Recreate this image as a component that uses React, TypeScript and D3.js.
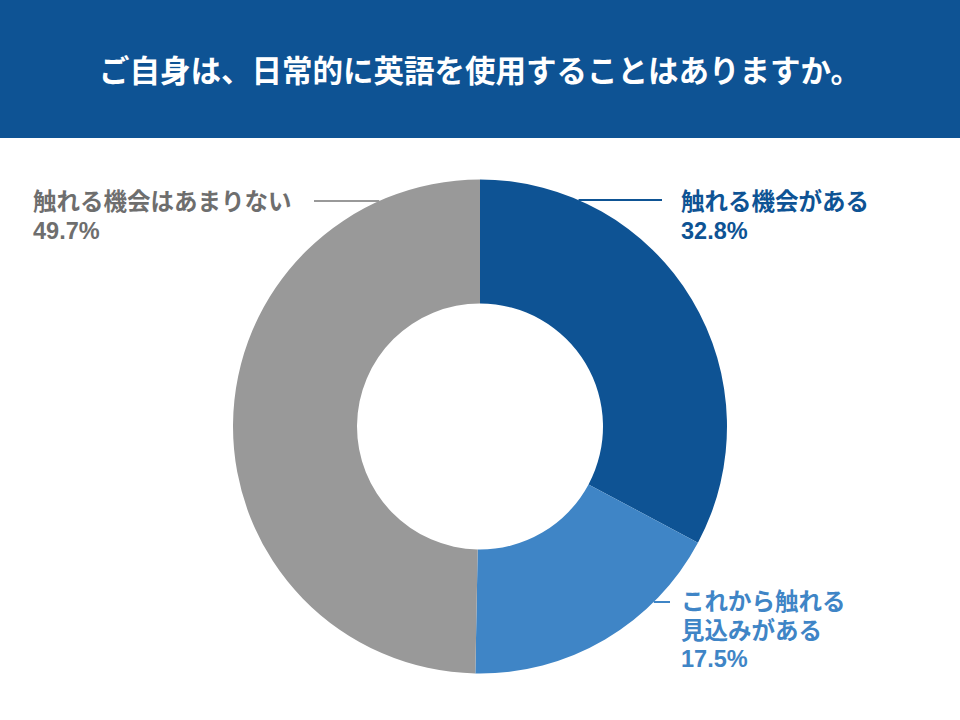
import React from "react";
import * as d3 from "d3";

const title = "ご自身は、日常的に英語を使用することはありますか。";
const categories = ["触れる機会がある", "これから触れる見込みがある", "触れる機会はあまりない"];
const labelLines = [["触れる機会がある"], ["これから触れる", "見込みがある"], ["触れる機会はあまりない"]];
const values = [32.8, 17.5, 49.7];
const sliceColors = ["#0e5394", "#3f85c6", "#999999"];
const labelColors = ["#0e5394", "#3f85c6", "#6e6e6e"];
const lineColors = ["#0e5394", "#3f85c6", "#999999"];

const W = 960, H = 720;
const cx = 480, cy = 426.5, R = 247, r = 123;
const FONT = "'Liberation Sans', Arial, 'Noto Sans CJK JP', sans-serif";
const FS = 23.5;
const LH = 28.5;

// label layout: anchor side, x of text, baseline of first line
const labelLayout = [
  { side: "right", x: 681, y: 210, lineY: 200, lineX: 662 },
  { side: "right", x: 681, y: 610, lineY: 602, lineX: 670 },
  { side: "left", x: 33, y: 210, lineY: 201, lineX: 314 },
];

export default function App() {
  const pie = d3.pie<number>().sort(null).value((d) => d)(values);
  const arc = d3.arc<d3.PieArcDatum<number>>().innerRadius(r).outerRadius(R);
  return (
    <svg width={W} height={H} style={{ position: "absolute", left: 0, top: 0, display: "block" }} fontFamily={FONT}>
      <rect x={0} y={0} width={W} height={H} fill="#ffffff" />
      <rect x={0} y={0} width={W} height={138} fill="#0e5394" />
      <text x={W / 2} y={82} textAnchor="middle" fill="#ffffff" fontSize={30.5} fontWeight="bold">{title}</text>
      {labelLayout.map((l, i) => {
        const dy = l.lineY - cy;
        const dx = Math.sqrt(Math.max(0, R * R - dy * dy));
        const edgeX = l.side === "right" ? cx + dx : cx - dx;
        return (
          <line key={"l" + i} x1={l.lineX} x2={edgeX} y1={l.lineY} y2={l.lineY} stroke={lineColors[i]} strokeWidth={2} />
        );
      })}
      <g transform={`translate(${cx},${cy})`}>
        {pie.map((p, i) => (
          <path key={categories[i]} d={arc(p) || ""} fill={sliceColors[i]} />
        ))}
      </g>
      {labelLayout.map((l, i) => (
        <text key={"t" + i} x={l.x} y={l.y} fill={labelColors[i]} fontSize={FS} fontWeight="bold">
          {labelLines[i].map((s, j) => (
            <tspan key={j} x={l.x} y={l.y + j * LH}>{s}</tspan>
          ))}
          <tspan x={l.x} y={l.y + labelLines[i].length * LH}>{values[i].toFixed(1) + "%"}</tspan>
        </text>
      ))}
    </svg>
  );
}
